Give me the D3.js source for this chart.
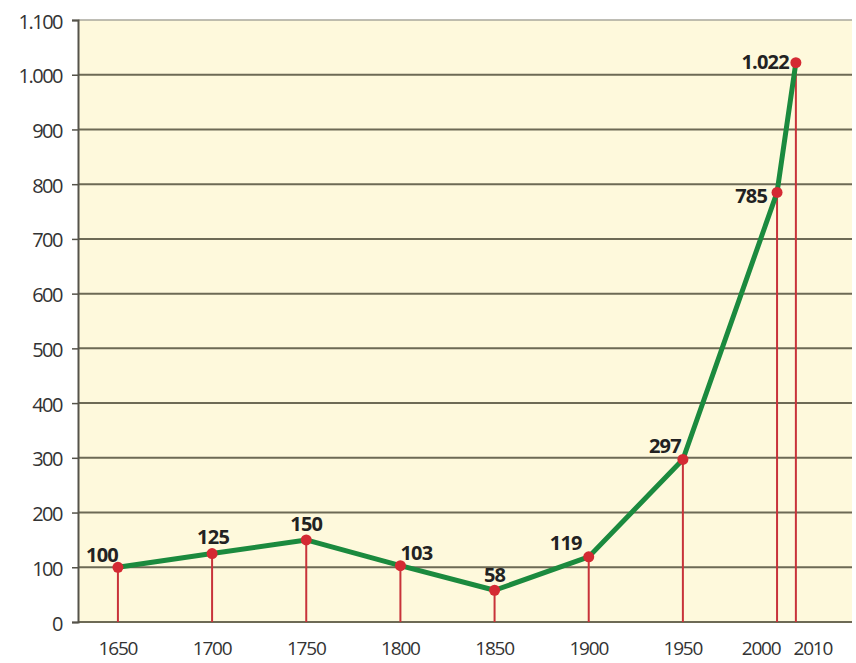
<!DOCTYPE html>
<html>
<head>
<meta charset="utf-8">
<script src="https://cdn.jsdelivr.net/npm/d3@7"></script>
<style>
  body { margin: 0; background: #ffffff; }
  svg { display: block; }
</style>
</head>
<body>
<div id="chart"></div>
<script>
// data
const years = [1650, 1700, 1750, 1800, 1850, 1900, 1950, 2000, 2010];
const values = [100, 125, 150, 103, 58, 119, 297, 785, 1022];
const valueLabels = ['100', '125', '150', '103', '58', '119', '297', '785', '1.022'];
const yTicks = [0, 100, 200, 300, 400, 500, 600, 700, 800, 900, 1000, 1100];
const xTickLabels = ['1650', '1700', '1750', '1800', '1850', '1900', '1950', '2000', '2010'];

// label placement per point: [dx, dy, anchor]
const labelPos = [
  [0, -5, 'end'], [1, -10, 'middle'], [0, -9, 'middle'], [0, -6, 'start'],
  [0, -8, 'middle'], [-7, -7, 'end'], [-2, -6, 'end'], [-10, 11, 'end'], [-7, 6, 'end']
];
// small nudges so the crowded 2000 / 2010 labels sit apart
const xLabelShift = { 2000: -16, 2010: 17 };

const width = 856, height = 663;
const margin = { top: 20, right: 4, bottom: 41, left: 78 };

const svg = d3.select('#chart').append('svg')
  .attr('width', width)
  .attr('height', height);

const x = d3.scaleLinear()
  .domain([1628.8, 2039.8])
  .range([margin.left, width - margin.right]);

const y = d3.scaleLinear()
  .domain([0, 1100])
  .range([height - margin.bottom, margin.top]);

// plot background
svg.append('rect')
  .attr('x', margin.left)
  .attr('y', margin.top)
  .attr('width', width - margin.right - margin.left)
  .attr('height', y(0) - margin.top)
  .attr('fill', '#fef9dc');

// horizontal grid
svg.append('g')
  .selectAll('line')
  .data(yTicks)
  .join('line')
  .attr('x1', margin.left)
  .attr('x2', width - margin.right)
  .attr('y1', d => y(d))
  .attr('y2', d => y(d))
  .attr('stroke', d => d === 1100 ? '#a9a79c' : '#6d6a55')
  .attr('stroke-width', d => d === 1100 ? 1.5 : 2);

// y axis
const yAxis = svg.append('g')
  .attr('transform', `translate(${margin.left},0)`)
  .call(d3.axisLeft(y)
    .tickValues(yTicks)
    .tickSize(6)
    .tickPadding(10)
    .tickFormat(d => d3.format(',')(d).replace(',', '.')));

yAxis.select('.domain').attr('stroke', '#55534a').attr('stroke-width', 2);
yAxis.selectAll('.tick line').attr('stroke', '#55534a').attr('stroke-width', 1.5);
yAxis.selectAll('.tick text')
  .attr('fill', '#333')
  .attr('dy', '0.4em')
  .style('font-family', '"Open Sans", sans-serif')
  .style('font-size', '20px')
  .style('letter-spacing', '-1.5px');

// x tick labels
svg.append('g')
  .selectAll('text')
  .data(years)
  .join('text')
  .attr('x', d => x(d) + (xLabelShift[d] || 0))
  .attr('y', y(0) + 33)
  .attr('text-anchor', 'middle')
  .attr('fill', '#333')
  .style('font-family', '"Open Sans", sans-serif')
  .style('font-size', '19px')
  .style('letter-spacing', '-1.2px')
  .text((d, i) => xTickLabels[i]);

const points = years.map((d, i) => ({ year: d, value: values[i], label: valueLabels[i], pos: labelPos[i] }));

// red drop lines
svg.append('g')
  .selectAll('line')
  .data(points)
  .join('line')
  .attr('x1', d => x(d.year))
  .attr('x2', d => x(d.year))
  .attr('y1', d => y(d.value))
  .attr('y2', y(0))
  .attr('stroke', '#c8333a')
  .attr('stroke-width', 2);

// green line
svg.append('path')
  .datum(points)
  .attr('fill', 'none')
  .attr('stroke', '#1b8a3e')
  .attr('stroke-width', 5)
  .attr('stroke-linejoin', 'round')
  .attr('d', d3.line().x(d => x(d.year)).y(d => y(d.value)));

// red dots
svg.append('g')
  .selectAll('circle')
  .data(points)
  .join('circle')
  .attr('cx', d => x(d.year))
  .attr('cy', d => y(d.value))
  .attr('r', 5.5)
  .attr('fill', '#d42a33');

// value labels
svg.append('g')
  .selectAll('text')
  .data(points)
  .join('text')
  .attr('x', d => x(d.year) + d.pos[0])
  .attr('y', d => y(d.value) + d.pos[1])
  .attr('text-anchor', d => d.pos[2])
  .attr('fill', '#222')
  .style('font-family', '"Open Sans", sans-serif')
  .style('font-size', '20px')
  .style('font-weight', 'bold')
  .style('letter-spacing', '-0.8px')
  .text(d => d.label);
</script>
</body>
</html>
